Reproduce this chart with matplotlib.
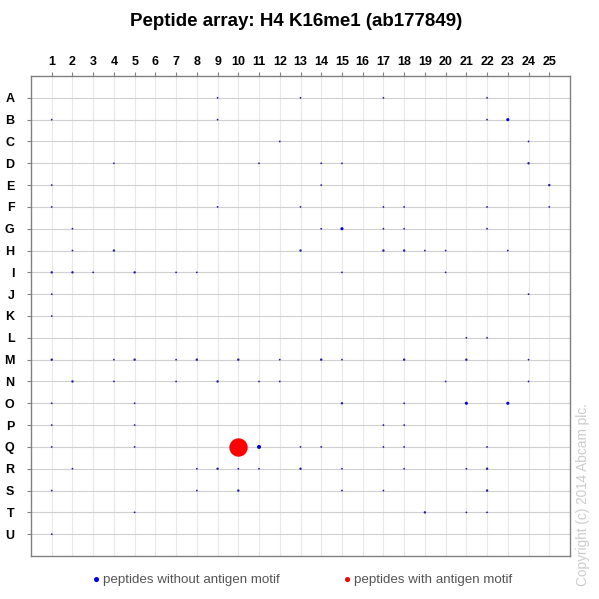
import matplotlib
matplotlib.use("Agg")
import matplotlib.pyplot as plt

plt.rcParams['font.family'] = ['Liberation Sans', 'DejaVu Sans']

row_labels = list("ABCDEFGHIJKLMNOPQRSTU")
col_labels = [str(i) for i in range(1, 26)]

# blue spots: (row letter, column number, relative signal)
blue_rows = ["A","A","A","A",
             "B","B","B","B",
             "C","C",
             "D","D","D","D","D",
             "E","E","E",
             "F","F","F","F","F","F","F",
             "G","G","G","G","G","G",
             "H","H","H","H","H","H","H","H",
             "I","I","I","I","I","I","I","I",
             "J","J",
             "K",
             "L","L",
             "M","M","M","M","M","M","M","M","M","M","M","M",
             "N","N","N","N","N","N","N","N",
             "O","O","O","O","O","O",
             "P","P","P","P",
             "Q","Q","Q","Q","Q","Q","Q","Q",
             "R","R","R","R","R","R","R","R","R","R",
             "S","S","S","S","S","S",
             "T","T","T","T",
             "U"]
blue_cols = [9,13,17,22,
             1,9,22,23,
             12,24,
             4,11,14,15,24,
             1,14,25,
             1,9,13,17,18,22,25,
             2,14,15,17,18,22,
             2,4,13,17,18,19,20,23,
             1,2,3,5,7,8,15,20,
             1,24,
             1,
             21,22,
             1,4,5,7,8,10,12,14,15,18,21,24,
             2,4,7,9,11,12,20,24,
             1,5,15,18,21,23,
             1,5,17,18,
             1,5,11,13,14,17,18,22,
             2,8,9,10,11,13,15,18,21,22,
             1,8,10,15,17,22,
             5,19,21,22,
             1]
blue_vals = [1,1,1,1,
             1,1,1,3,
             1,1,
             1,1,1,1,2,
             1,1,2,
             1,1,1,1,1,1,1,
             1,1,3,1,1,1,
             1,2,2,2,2,1,1,1,
             2,2,1,2,1,1,1,1,
             1,1,
             1,
             1,1,
             2,1,2,1,2,2,1,2,1,2,2,1,
             2,1,1,2,1,1,1,1,
             1,1,2,1,3,3,
             1,1,1,1,
             1,1,5,1,1,1,1,1,
             1,1,2,1,1,2,1,1,1,2,
             1,1,2,1,1,2,
             1,2,1,1,
             1]

red_rows = ["Q"]
red_cols = [10]
red_vals = [100]

title = "Peptide array: H4 K16me1 (ab177849)"
legend_blue = "peptides without antigen motif"
legend_red = "peptides with antigen motif"
copyright_text = "Copyright (c) 2014 Abcam plc."

W = H = 599
fig = plt.figure(figsize=(W / 100, H / 100), dpi=100)
ax = fig.add_axes([31 / W, 1 - 556 / H, (570 - 31) / W, (556 - 76) / H])

ridx = {r: i for i, r in enumerate(row_labels)}

ax.set_xlim(0, 26)
ax.set_ylim(21, -1)

for c in range(1, 26):
    ax.axvline(c, color="#e8e8e8", lw=0.8, zorder=0)
for r in range(len(row_labels)):
    ax.axhline(r, color="#d0d0d0", lw=0.8, zorder=0)

size_map = {1: 1.6, 2: 3.0, 3: 5.0, 5: 8.5}
bx = blue_cols
by = [ridx[r] for r in blue_rows]
bs = [size_map[v] for v in blue_vals]
bc = ["#0000e6" if v >= 3 else "#1c1ca8" for v in blue_vals]
ax.scatter(bx, by, s=bs, c=bc, linewidths=0, zorder=3)

rx = red_cols
ry = [ridx[r] for r in red_rows]
ax.scatter(rx, ry, s=[v * 1.75 for v in red_vals], c="#ff0000", linewidths=0, zorder=4)

ax.xaxis.tick_top()
ax.set_xticks(range(1, 26))
ax.set_xticklabels(col_labels, fontsize=9, fontweight="bold")
ax.set_yticks(range(len(row_labels)))
ax.set_yticklabels(row_labels, fontsize=9, fontweight="bold")
ax.tick_params(axis="x", length=3, width=0.8, color="#808080", pad=3)
ax.tick_params(axis="y", length=3, width=0.8, color="#808080", pad=9)
for sp in ax.spines.values():
    sp.set_color("#808080")
    sp.set_linewidth(1.0)

fig.text(296 / W, 1 - 22 / H, title, ha="center", va="center",
         fontsize=13.5, fontweight="bold")

# legend
fig.text(97 / W, 1 - 580 / H, "\u25CF", color="#0000e6", fontsize=8.5,
         ha="center", va="center")
fig.text(103 / W, 1 - 580 / H, legend_blue, color="#555555", fontsize=9.6,
         ha="left", va="center")
fig.text(348 / W, 1 - 580 / H, "\u25CF", color="#ff0000", fontsize=8.5,
         ha="center", va="center")
fig.text(354 / W, 1 - 580 / H, legend_red, color="#555555", fontsize=9.6,
         ha="left", va="center")

fig.text(583 / W, 1 - 586 / H, copyright_text, rotation=90, color="#cccccc",
         fontsize=9.8, ha="center", va="bottom")

fig.savefig("out.png", dpi=100)
